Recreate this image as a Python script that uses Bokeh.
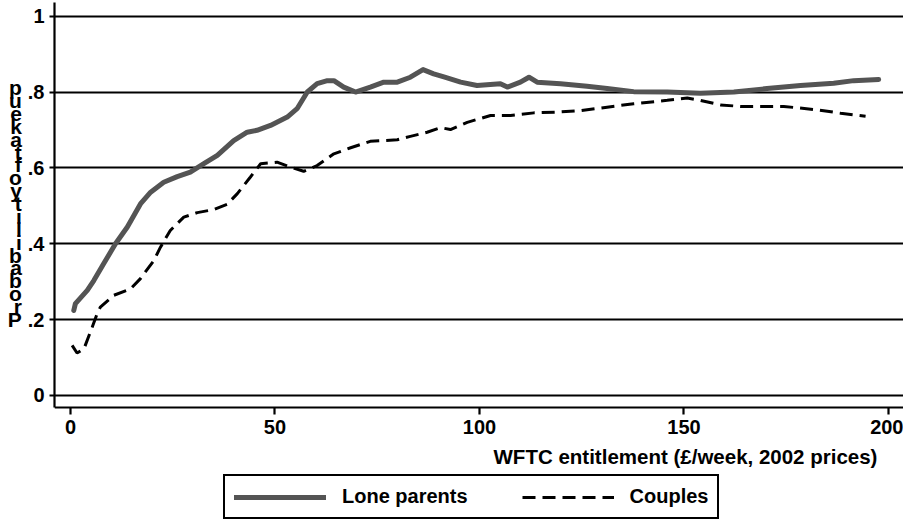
from bokeh.plotting import figure
from bokeh.models import (ColumnDataSource, Range1d, FixedTicker, Legend,
                          LegendItem, Label)
from bokeh.embed import file_html
from bokeh.resources import INLINE

# Smoothed take-up probability by WFTC entitlement (GBP/week, 2002 prices)
lone_x = [0.8, 1.2, 4.1, 5.7, 8.1, 11.0, 13.9, 17.1, 19.6, 22.8, 26.1, 29.3,
          32.6, 35.9, 39.9, 43.2, 45.6, 48.9, 53.0, 55.4, 57.9, 60.3, 62.8,
          64.4, 66.8, 69.7, 73.3, 76.6, 79.9, 83.1, 86.2, 88.8, 91.3, 95.4,
          99.4, 105.1, 106.8, 110.0, 112.1, 114.1, 119.8, 126.3, 131.2, 137.7,
          145.9, 154.0, 162.2, 170.3, 178.5, 186.6, 191.5, 197.6]
lone_y = [0.224, 0.242, 0.277, 0.303, 0.347, 0.400, 0.444, 0.505, 0.536,
          0.562, 0.577, 0.589, 0.611, 0.633, 0.672, 0.694, 0.699, 0.712,
          0.734, 0.756, 0.800, 0.822, 0.830, 0.830, 0.813, 0.800, 0.813,
          0.826, 0.826, 0.839, 0.859, 0.848, 0.840, 0.826, 0.817, 0.822,
          0.813, 0.826, 0.839, 0.826, 0.822, 0.815, 0.809, 0.801, 0.800,
          0.797, 0.800, 0.809, 0.817, 0.823, 0.830, 0.833]

couple_x = [0.4, 1.6, 3.3, 5.3, 6.5, 7.3, 10.6, 14.7, 17.1, 20.4, 22.0, 24.4,
            27.7, 31.0, 35.0, 38.3, 40.8, 44.0, 46.5, 50.5, 53.8, 57.0, 60.3,
            64.4, 68.5, 73.3, 79.9, 83.1, 87.2, 90.5, 92.9, 97.0, 102.7,
            107.6, 113.3, 119.0, 124.7, 131.2, 137.7, 145.9, 150.8, 154.0,
            158.9, 163.8, 174.4, 182.6, 188.3, 194.4]
couple_y = [0.132, 0.112, 0.123, 0.180, 0.215, 0.233, 0.264, 0.281, 0.308,
            0.356, 0.391, 0.435, 0.470, 0.482, 0.490, 0.504, 0.532, 0.576,
            0.611, 0.615, 0.602, 0.591, 0.606, 0.637, 0.653, 0.670, 0.674,
            0.683, 0.694, 0.706, 0.701, 0.720, 0.738, 0.738, 0.745, 0.747,
            0.751, 0.760, 0.769, 0.778, 0.784, 0.778, 0.766, 0.762, 0.762,
            0.753, 0.744, 0.736]

y_ticks = [0, 0.2, 0.4, 0.6, 0.8, 1]
y_tick_labels = ["0", ".2", ".4", ".6", ".8", "1"]
x_ticks = [0, 50, 100, 150, 200]

series_names = ["Lone parents", "Couples"]
x_title = "WFTC entitlement (\u00a3/week, 2002 prices)"
y_title = "Probabilityoftakeup"

FONT = "Liberation Sans"

# value ranges; the y range also holds the caption area under the axis
X0, X1 = -3.91, 203.67
Y_AXIS, Y_TOP, Y_BOTTOM = -0.0316, 1.036, -0.3297

p = figure(frame_width=849, frame_height=518, output_backend="svg",
           toolbar_location=None,
           x_range=Range1d(X0, X1), y_range=Range1d(Y_BOTTOM, Y_TOP),
           min_border_left=54, min_border_right=0, min_border_top=2,
           min_border_bottom=0)
p.outline_line_color = None
p.background_fill_color = "white"
p.border_fill_color = "white"

lone_src = ColumnDataSource(dict(x=lone_x, y=lone_y))
couple_src = ColumnDataSource(dict(x=couple_x, y=couple_y))

r_lone = p.line("x", "y", source=lone_src, line_color="#545454", line_width=5,
                line_join="round", line_cap="round")
r_couple = p.line("x", "y", source=couple_src, line_color="black", line_width=3,
                  line_dash="13 7")

# axes
for ax in (p.xaxis[0], p.yaxis[0]):
    ax.axis_line_width = 2.2
    ax.axis_line_color = "black"
    ax.major_tick_line_width = 2.2
    ax.major_tick_line_color = "black"
    ax.major_tick_in = 0
    ax.minor_tick_line_color = None
    ax.major_label_text_font = FONT
    ax.major_label_text_font_style = "bold"
    ax.major_label_text_font_size = "20px"
    ax.major_label_text_color = "black"

p.xaxis.ticker = FixedTicker(ticks=x_ticks)
p.xaxis.fixed_location = Y_AXIS
p.xaxis.major_tick_out = 7
p.xaxis.major_label_standoff = 6

p.yaxis.ticker = FixedTicker(ticks=y_ticks)
p.yaxis.bounds = (Y_AXIS, Y_TOP)
p.yaxis.major_label_overrides = {t: s for t, s in zip(y_ticks, y_tick_labels)}
p.yaxis.major_tick_out = 5
p.yaxis.major_label_standoff = 5
p.yaxis.major_label_orientation = "horizontal"

# y title: upright letters stacked from bottom to top; the blank tail lines
# lift the column so it sits beside the axis rather than the whole frame
p.yaxis.axis_label = "\n".join(list(reversed(y_title)) + ["\u00a0"] * 9)
p.yaxis.axis_label_orientation = "horizontal"
p.yaxis.axis_label_standoff = 3
p.yaxis.axis_label_text_font = FONT
p.yaxis.axis_label_text_font_style = "bold"
p.yaxis.axis_label_text_font_size = "21px"
p.yaxis.axis_label_text_line_height = 0.56
p.yaxis.axis_label_text_color = "black"

p.xgrid.grid_line_color = None
p.ygrid.grid_line_color = "black"
p.ygrid.grid_line_width = 2.2
p.ygrid.ticker = FixedTicker(ticks=y_ticks)

# x title, right-aligned under the axis
p.add_layout(Label(x=197.3, y=-0.161, text=x_title, text_align="right",
                   text_baseline="alphabetic", text_font=FONT,
                   text_font_style="bold", text_font_size="20.5px",
                   text_color="black"))

legend = Legend(items=[LegendItem(label=series_names[0], renderers=[r_lone]),
                       LegendItem(label=series_names[1], renderers=[r_couple])],
                location=(169, 1), orientation="horizontal",
                border_line_color="black", border_line_width=2.2,
                border_line_alpha=1.0,
                background_fill_color="white", background_fill_alpha=1,
                label_text_font=FONT, label_text_font_style="bold",
                label_text_font_size="20px", label_text_color="black",
                glyph_width=92, glyph_height=20, label_standoff=16, spacing=54,
                padding=9, margin=0)
p.add_layout(legend, "center")

open("out.html", "w").write(file_html(p, INLINE))
